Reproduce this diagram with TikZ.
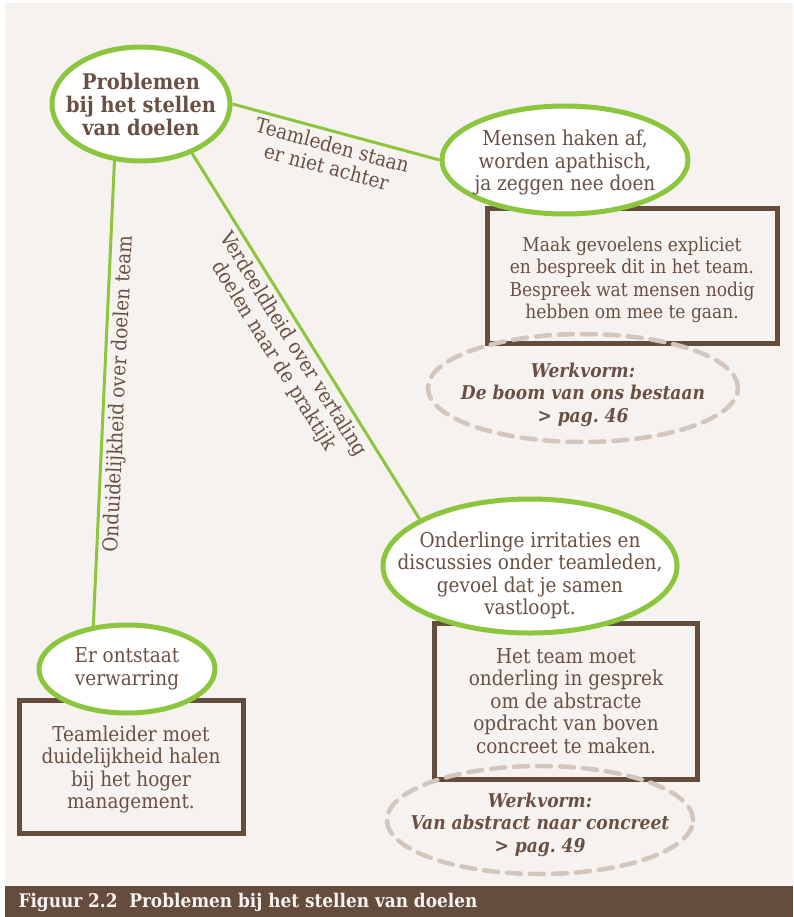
\documentclass[tikz,border=0pt]{standalone}
\usepackage{fontspec}
\setmainfont{DejaVu Serif Condensed}
\usetikzlibrary{shapes.geometric}
\definecolor{leafgreen}{HTML}{8CC63F}
\definecolor{barkbrown}{HTML}{654D3E}
\definecolor{inkbrown}{HTML}{6A5043}
\definecolor{sandgrey}{HTML}{D2C6BD}
\definecolor{paper}{HTML}{F5F2EF}
\newcommand{\diagfont}{\fontsize{20.5}{22.5}\selectfont}
\newcommand{\smalldiagfont}{\fontsize{19}{22.5}\selectfont}
\newcommand{\titlefont}{\fontsize{21.5}{23}\selectfont}
\newcommand{\captionfont}{\fontsize{18.8}{20}\selectfont}
\begin{document}
\begin{tikzpicture}[x=1pt,y=-1pt,
  problemdecorate/.style={shape=ellipse,draw=leafgreen,line width=5pt,fill=white,inner sep=-40pt,align=center,text=inkbrown,font=\diagfont},
  advicedecorate/.style={shape=rectangle,draw=barkbrown,line width=5pt,inner sep=0pt,align=center,text=inkbrown,font=\diagfont},
  workformdecorate/.style={shape=ellipse,draw=sandgrey,line width=4.5pt,dash pattern=on 14pt off 9pt,line cap=round,inner sep=-40pt,align=center,text=inkbrown,font=\smalldiagfont\bfseries\itshape},
  linedecorate/.style={-,draw=leafgreen,line width=3pt},
  labeldecorate/.style={sloped,align=center,text=inkbrown,font=\diagfont,inner sep=4pt}]
\useasboundingbox (0,0) rectangle (793,917);
% page and footer
\fill[white] (0,0) rectangle (793,917);
\fill[paper] (5,3) rectangle (793,886);
\fill[barkbrown] (5,886) rectangle (793,917);
\node (caption) [anchor=west,text=paper,font=\captionfont\bfseries] at (15,902) {Figuur 2.2\ \ Problemen bij het stellen van doelen};
% advice boxes
\node (talk) at (632,276) [advicedecorate,minimum width=290pt,minimum height=135pt,font=\smalldiagfont] {\rule{0pt}{22pt}Maak gevoelens expliciet\\en bespreek dit in het team.\\Bespreek wat mensen nodig\\hebben om mee te gaan.};
\node (dialogue) at (566,701) [advicedecorate,minimum width=263pt,minimum height=156pt] {Het team moet\\onderling in gesprek\\om de abstracte\\opdracht van boven\\concreet te maken.};
\node (escalate) at (131,767) [advicedecorate,minimum width=224pt,minimum height=133pt] {\rule{0pt}{21pt}Teamleider moet\\duidelijkheid halen\\bij het hoger\\management.};
% problems
\node (goal) at (141,104) [problemdecorate,minimum width=178pt,minimum height=114pt,font=\titlefont\bfseries] {Problemen\\bij het stellen\\van doelen};
\node (dropout) at (565,160) [problemdecorate,minimum width=246pt,minimum height=108pt] {\rule{0pt}{21pt}Mensen haken af,\\worden apathisch,\\ja zeggen nee doen};
\node (friction) at (530,566) [problemdecorate,minimum width=294pt,minimum height=134pt] {\rule{0pt}{34pt}Onderlinge irritaties en\\discussies onder teamleden,\\gevoel dat je samen\\vastloopt.};
\node (confusion) at (127,669) [problemdecorate,minimum width=176pt,minimum height=88pt] {Er ontstaat\\verwarring};
% work forms
\node (tree) at (583,388) [workformdecorate,minimum width=310pt,minimum height=108pt] {\rule{0pt}{28pt}Werkvorm:\\De boom van ons bestaan\\> pag.~46};
\node (concrete) at (540,820) [workformdecorate,minimum width=306pt,minimum height=108pt] {\rule{0pt}{24pt}Werkvorm:\\Van abstract naar concreet\\> pag.~49};
% edges
\path
(goal.east) edge[linedecorate] node[labeldecorate,below] {Teamleden staan\\er niet achter} (dropout.west)
(goal.-44) edge[linedecorate] node[labeldecorate,below] {Verdeeldheid over vertaling\\doelen naar de praktijk} (friction.157)
(goal.-115) edge[linedecorate] node[labeldecorate,below] {Onduidelijkheid over doelen team} (confusion.128);
\end{tikzpicture}
\end{document}
